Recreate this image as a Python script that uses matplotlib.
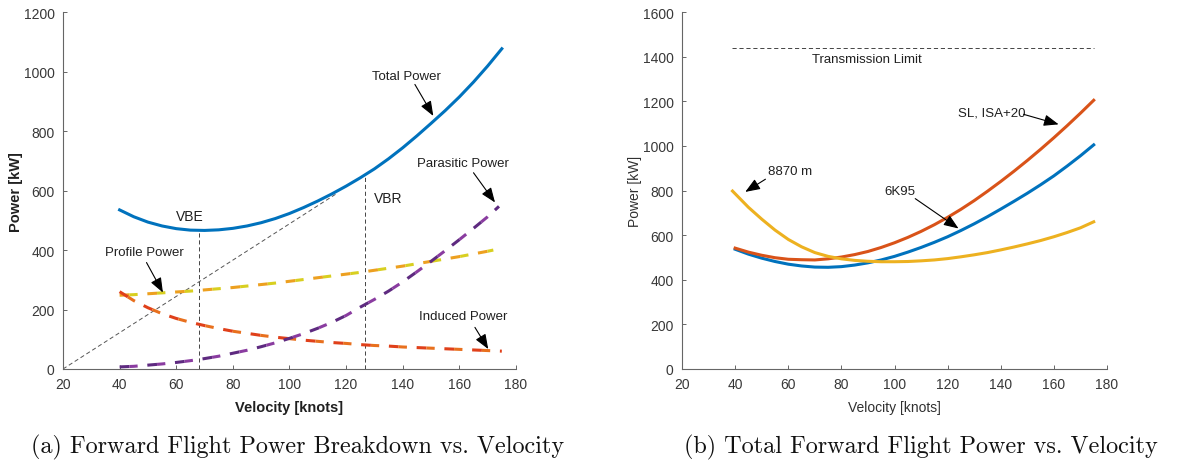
import numpy as np
import matplotlib
matplotlib.use("Agg")
import matplotlib.pyplot as plt

plt.rcParams['font.family'] = ['Liberation Sans', 'DejaVu Sans']
plt.rcParams['lines.scale_dashes'] = False

# power breakdown vs velocity [knots], [kW]
vel = [40, 45, 50, 55, 60, 65, 70, 75, 80, 85, 90, 95, 100, 105, 110, 115,
       120, 125, 130, 135, 140, 145, 150, 155, 160, 165, 170, 175]
total_power = [535, 512, 494, 481, 472, 467, 466, 468, 473, 481, 492, 506,
               523, 543, 565, 589, 615, 643, 673, 707, 744, 784, 826, 869,
               915, 965, 1019, 1077]
induced_power = [260, 230, 206, 186, 170, 157, 146, 136, 127, 120, 113, 107,
                 102, 97, 93, 89, 86, 82, 79, 77, 74, 72, 70, 68, 66, 64,
                 62, 60]
profile_vel = vel[:-1] + [172]
profile_power = [248, 250, 253, 256, 259, 262, 266, 270, 274, 279, 284, 289,
                 295, 301, 307, 313, 319, 325, 332, 339, 346, 354, 362, 370,
                 378, 387, 396, 400]
parasitic_vel = vel[:-1] + [174]
parasitic_power = [7, 9, 13, 17, 22, 28, 35, 43, 53, 63, 75, 88, 103, 119,
                   137, 157, 180, 208, 234, 262, 293, 327, 362, 398, 435,
                   473, 512, 547]

vbe, vbr = 68, 126.5
tangent_vel = [20, 117]
tangent_power = [0, 592]

# total power for the three flight conditions
power_6k95 = [537, 515, 497, 482, 470, 462, 457, 456, 459, 466, 476, 489,
              505, 524, 545, 568, 593, 621, 651, 683, 717, 752, 788, 826,
              866, 910, 956, 1005]
power_sl_isa20 = [542, 524, 510, 499, 492, 490, 489, 494, 502, 513, 527, 545,
                  566, 590, 617, 647, 680, 716, 755, 797, 841, 887, 935, 985,
                  1037, 1091, 1147, 1205]
alt_vel = [39] + vel[1:]
power_8870m = [798, 725, 672, 623, 581, 548, 522, 505, 494, 487, 483, 481,
               481, 482, 485, 489, 495, 503, 512, 522, 534, 547, 561, 576,
               593, 612, 633, 660]
transmission_limit = 1440

blue = '#0072BD'
red = '#D95319'
gold = '#EDB120'
axcol = '#383838'


def style_axes(ax, ymax, ystep):
    ax.set_xlim(20, 180)
    ax.set_ylim(0, ymax)
    ax.set_xticks(range(20, 181, 20))
    ax.set_yticks(range(0, ymax + 1, ystep))
    for s in ('top', 'right'):
        ax.spines[s].set_visible(False)
    for s in ('left', 'bottom'):
        ax.spines[s].set_color('#666666')
        ax.spines[s].set_linewidth(0.8)
    ax.tick_params(direction='in', length=3, width=0.7, color='#666666',
                   labelsize=10, labelcolor=axcol, pad=6)


def two_tone(ax, x, y, c1, c2):
    ax.plot(x, y, color=c1, lw=2.2, dashes=(7, 13))
    ax.plot(x, y, color=c2, lw=2.2, dashes=(0, 7, 6, 7))


def arrow(ax, text, xy, xytext, tail, **kw):
    ax.text(*xytext, text, ha='center', va='center', fontsize=9.5,
            color='#202020', **kw)
    ax.annotate('', xy=xy, xytext=tail,
                arrowprops=dict(arrowstyle='-|>,head_length=0.9,head_width=0.35',
                                color='k', lw=0.8, shrinkA=0, shrinkB=0))


fig = plt.figure(figsize=(11.93, 4.64), dpi=100)
ax1 = fig.add_axes([0.0528, 0.2026, 0.3797, 0.769])
ax2 = fig.add_axes([0.5717, 0.2026, 0.3562, 0.769])

# (a) breakdown
style_axes(ax1, 1200, 200)
ax1.plot(tangent_vel, tangent_power, color='#555555', lw=0.7, ls=(0, (3, 2)))
for v in (vbe, vbr):
    ax1.plot([v, v], [0, np.interp(v, vel, total_power)], color='#444444',
             lw=0.7, ls=(0, (3, 2)))
two_tone(ax1, profile_vel, profile_power, '#EDA020', '#D8CF20')
two_tone(ax1, vel, induced_power, '#E0401A', '#E8701E')
two_tone(ax1, parasitic_vel, parasitic_power, '#5E2A80', '#8A3CA0')
ax1.plot(vel, total_power, color=blue, lw=2.2)

ax1.text(64.8, 515, 'VBE', ha='center', va='center', fontsize=10, color='#202020')
ax1.text(134.9, 576, 'VBR', ha='center', va='center', fontsize=10, color='#202020')
arrow(ax1, 'Total Power', (150.8, 851), (141.4, 985), (144.3, 957))
arrow(ax1, 'Parasitic Power', (172.6, 560), (161.4, 694), (165, 660))
arrow(ax1, 'Profile Power', (55.3, 257), (48.9, 395), (49.5, 358))
arrow(ax1, 'Induced Power', (170.2, 67), (161.4, 179), (165.5, 140))

ax1.set_xlabel('Velocity [knots]', fontsize=10.5, fontweight='bold',
               color='#202020')
ax1.set_ylabel('Power [kW]', fontsize=10.5, fontweight='bold',
               color='#202020')
ax1.xaxis.set_label_coords(0.5, -0.087)
ax1.yaxis.set_label_coords(-0.088, 0.5)

# (b) total power
style_axes(ax2, 1600, 200)
ax2.plot([38.8, 175], [transmission_limit] * 2, color='#444444', lw=0.7,
         ls=(0, (3, 2)))
ax2.text(89.6, 1388, 'Transmission Limit', ha='center', va='center',
         fontsize=9.5, color='#202020')
ax2.plot(vel, power_6k95, color=blue, lw=2.2)
ax2.plot(vel, power_sl_isa20, color=red, lw=2.2)
ax2.plot(alt_vel, power_8870m, color=gold, lw=2.2)
arrow(ax2, 'SL, ISA+20', (161.8, 1097), (136.7, 1152), (148.6, 1142))
arrow(ax2, '6K95', (124.1, 630), (102.2, 798), (107.8, 764))
arrow(ax2, '8870 m', (43.8, 794), (60.8, 888), (51.4, 851))

ax2.set_xlabel('Velocity [knots]', fontsize=10, color='#303030')
ax2.set_ylabel('Power [kW]', fontsize=10, color='#303030')
ax2.xaxis.set_label_coords(0.5, -0.087)
ax2.yaxis.set_label_coords(-0.094, 0.5)

cap = dict(family=['cmr10', 'DejaVu Serif'], fontsize=17.4, ha='center',
           va='center', color='#111111')
fig.text(298 / 1193, 1 - 447 / 464,
         '(a) Forward Flight Power Breakdown vs. Velocity', **cap)
fig.text(921 / 1193, 1 - 447 / 464,
         '(b) Total Forward Flight Power vs. Velocity', **cap)

fig.savefig('out.png', dpi=100)
